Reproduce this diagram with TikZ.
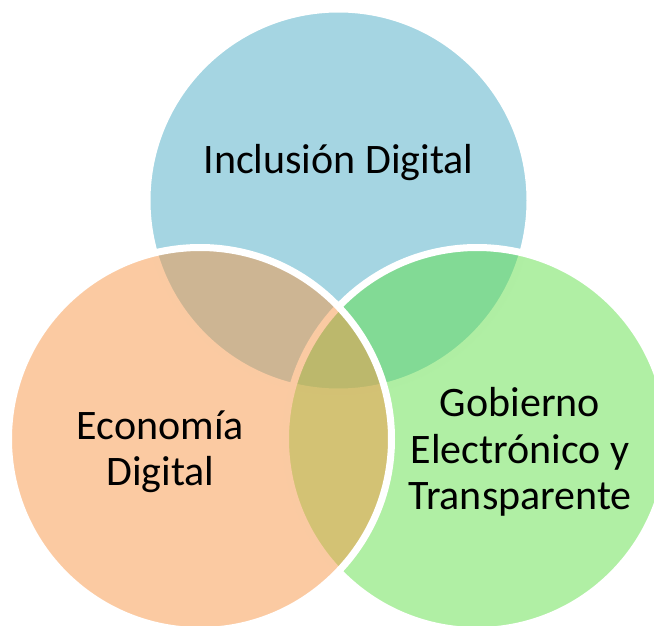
\documentclass[tikz,border=0pt]{standalone}
\usepackage{fontspec}
\setmainfont{Carlito}
\usepackage{tikz}

\definecolor{vennblue}{RGB}{75,172,198}
\definecolor{venngreen}{RGB}{97,223,73}
\definecolor{vennorange}{RGB}{247,150,70}

\tikzset{
  venn/.style={circle, minimum size=383pt, inner sep=0pt, draw=white, line width=7pt, fill opacity=0.5},
  label/.style={align=center, font=\fontsize{42}{46.5}\selectfont, text=black}
}

\begin{document}
\begin{tikzpicture}[x=1pt,y=-1pt]
\useasboundingbox (0,0) rectangle (654,626);

% circles: blue first, then green, then orange on top
\node[venn, fill=vennblue] (inclusion) at (338.5,200.5) {};
\node[venn, fill=venngreen] (gobierno) at (477,439) {};
\node[venn, fill=vennorange] (economia) at (200,439) {};

% texts
\node[label] (inclusiontext) at (338.5,163) {Inclusión Digital};
\node[label] (economiatext) at (160.5,452) {Economía\\Digital};
\node[label] (gobiernotext) at (520,452) {Gobierno\\Electrónico y\\Transparente};

\end{tikzpicture}
\end{document}
